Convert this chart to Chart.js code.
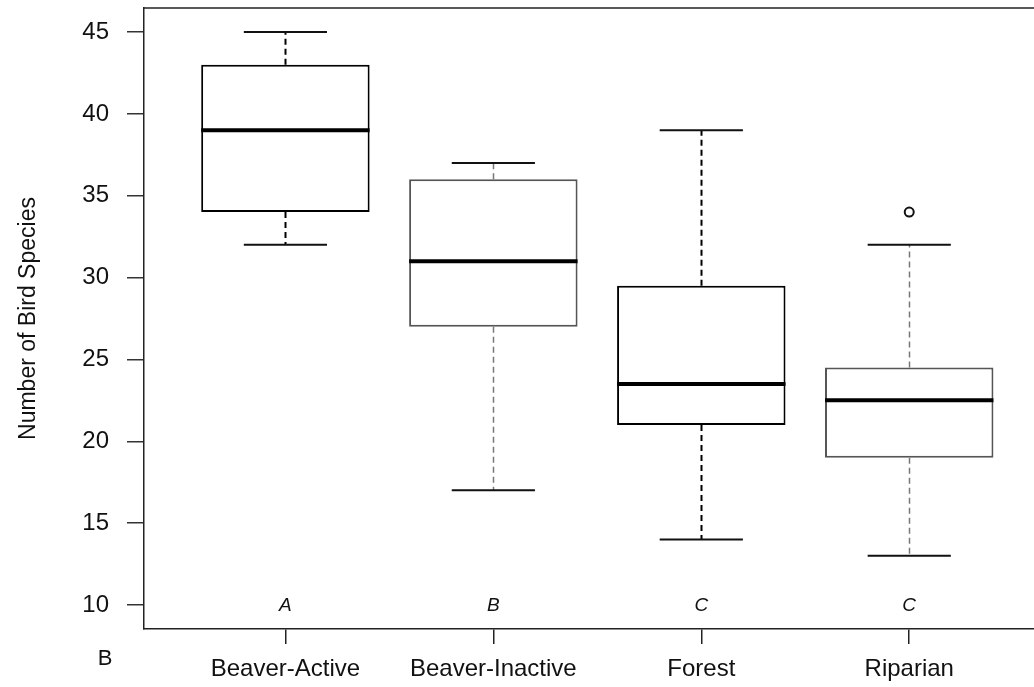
<!DOCTYPE html>
<html>
<head>
<meta charset="utf-8">
<script src="https://cdn.jsdelivr.net/npm/chart.js@4/dist/chart.umd.min.js"></script>
<style>
  html, body { margin: 0; padding: 0; background: #fff; overflow: hidden; }
  canvas { display: block; }
</style>
</head>
<body>
<canvas id="myChart" width="1034" height="687"></canvas>
<script>
// boxplot summaries
let groups = ['Beaver-Active', 'Beaver-Inactive', 'Forest', 'Riparian'];
let letters = ['A', 'B', 'C', 'C'];
let whiskerLow = [32, 17, 14, 13];
let q1 = [34, 27, 21, 19];
let medians = [39, 31, 23.5, 22.5];
let q3 = [43, 36, 29.5, 24.5];
let whiskerHigh = [45, 37, 39, 32];
let outlierGroup = ['Riparian'];
let outlierValue = [34];
let yTicks = [10, 15, 20, 25, 30, 35, 40, 45];

// styling per box (the picture has some boxes drawn darker than others)
let boxColors = ['#000', '#555', '#000', '#555'];
let whiskerColors = ['#000', '#777', '#000', '#777'];
let whiskerWidths = [2, 1.5, 2, 1.5];

Chart.defaults.font.family = '"Liberation Sans", Arial, sans-serif';
Chart.defaults.color = '#111';

let boxData = groups.map((g, i) => ({ x: i + 1, y: [q1[i], q3[i]] }));
let outlierData = outlierGroup.map((g, i) => ({ x: groups.indexOf(g) + 1, y: outlierValue[i] }));

// scales should not push the plot area around
let noPad = s => { s.paddingTop = 0; s.paddingBottom = 0; s.paddingLeft = 0; s.paddingRight = 0; };

let boxPlugin = {
	id: 'boxExtras',
	beforeDatasetsDraw(chart) {
		let ctx = chart.ctx;
		let xs = chart.scales.x;
		let ys = chart.scales.y;
		ctx.save();
		for (let i = 0; i < groups.length; i++) {
			let x = Math.round(xs.getPixelForValue(i + 1)) + 0.5;
			// dashed whiskers
			ctx.strokeStyle = whiskerColors[i];
			ctx.lineWidth = whiskerWidths[i];
			ctx.setLineDash([6, 4]);
			ctx.beginPath();
			ctx.moveTo(x, ys.getPixelForValue(q3[i]));
			ctx.lineTo(x, ys.getPixelForValue(whiskerHigh[i]));
			ctx.moveTo(x, ys.getPixelForValue(q1[i]));
			ctx.lineTo(x, ys.getPixelForValue(whiskerLow[i]));
			ctx.stroke();
			// caps
			ctx.setLineDash([]);
			ctx.strokeStyle = '#111';
			ctx.lineWidth = 2;
			let cl = xs.getPixelForValue(i + 1 - 0.2);
			let cr = xs.getPixelForValue(i + 1 + 0.2);
			ctx.beginPath();
			[whiskerHigh[i], whiskerLow[i]].forEach(v => {
				let y = ys.getPixelForValue(v);
				ctx.moveTo(cl, y);
				ctx.lineTo(cr, y);
			});
			ctx.stroke();
		}
		ctx.restore();
	},
	afterDatasetsDraw(chart) {
		let ctx = chart.ctx;
		let xs = chart.scales.x;
		let ys = chart.scales.y;
		let bars = chart.getDatasetMeta(0).data;
		let area = chart.chartArea;
		ctx.save();
		// medians
		ctx.strokeStyle = '#000';
		ctx.lineWidth = 4;
		bars.forEach((bar, i) => {
			let y = ys.getPixelForValue(medians[i]);
			ctx.beginPath();
			ctx.moveTo(bar.x - bar.width / 2, y);
			ctx.lineTo(bar.x + bar.width / 2, y);
			ctx.stroke();
		});
		// significance letters
		ctx.fillStyle = '#111';
		ctx.font = 'italic 19px "Liberation Sans", Arial, sans-serif';
		ctx.textAlign = 'center';
		ctx.textBaseline = 'middle';
		letters.forEach((l, i) => {
			ctx.fillText(l, xs.getPixelForValue(i + 1), ys.getPixelForValue(10) + 1);
		});
		// top frame line
		ctx.strokeStyle = '#222';
		ctx.lineWidth = 1.5;
		ctx.beginPath();
		ctx.moveTo(area.left, area.top);
		ctx.lineTo(area.right, area.top);
		ctx.stroke();
		// panel label
		ctx.font = '22px "Liberation Sans", Arial, sans-serif';
		ctx.fillText('B', 105, 659);
		ctx.restore();
	}
};

let myChart = document.getElementById('myChart').getContext('2d');

let chart = new Chart(myChart, {
	type: 'bar',
	data: {
		datasets: [
		{
			data: boxData,
			backgroundColor: '#fff',
			borderColor: boxColors,
			borderWidth: 2,
			borderSkipped: false,
			barPercentage: 0.81,
			categoryPercentage: 1
		},
		{
			type: 'scatter',
			data: outlierData,
			pointStyle: 'circle',
			pointRadius: 4.5,
			pointBorderWidth: 2,
			pointBorderColor: '#111',
			pointBackgroundColor: '#fff'
		}
		]
	},
	options: {
		responsive: false,
		devicePixelRatio: 1,
		animation: false,
		layout: { autoPadding: false, padding: { top: 8, left: 0, right: 0, bottom: 0 } },
		plugins: {
			legend: { display: false },
			tooltip: { enabled: false }
		},
		scales: {
			x: {
				type: 'linear',
				offset: false,
				min: 0.32,
				max: 4.6,
				afterBuildTicks: s => { s.ticks = groups.map((g, i) => ({ value: i + 1 })); },
				afterFit: s => { s.height = 58; noPad(s); },
				ticks: {
					callback: v => groups[v - 1],
					font: { size: 24 },
					padding: 11,
					maxRotation: 0,
					autoSkip: false
				},
				grid: { offset: false, drawOnChartArea: false, tickLength: 15, color: '#222', lineWidth: 1.5 },
				border: { display: true, color: '#222', width: 1.5 }
			},
			y: {
				min: 8.53,
				max: 46.47,
				afterBuildTicks: s => { s.ticks = yTicks.map(v => ({ value: v })); },
				afterFit: s => { s.width = 144; noPad(s); },
				ticks: { font: { size: 24 }, padding: 18 },
				grid: { drawOnChartArea: false, tickLength: 17, color: '#333', lineWidth: 1.5 },
				border: { display: true, color: '#222', width: 1.5 },
				title: {
					display: true,
					text: 'Number of Bird Species',
					font: { size: 23 },
					color: '#111',
					padding: { top: 15, bottom: 0 }
				}
			}
		}
	},
	plugins: [boxPlugin]
});
</script>
</body>
</html>
